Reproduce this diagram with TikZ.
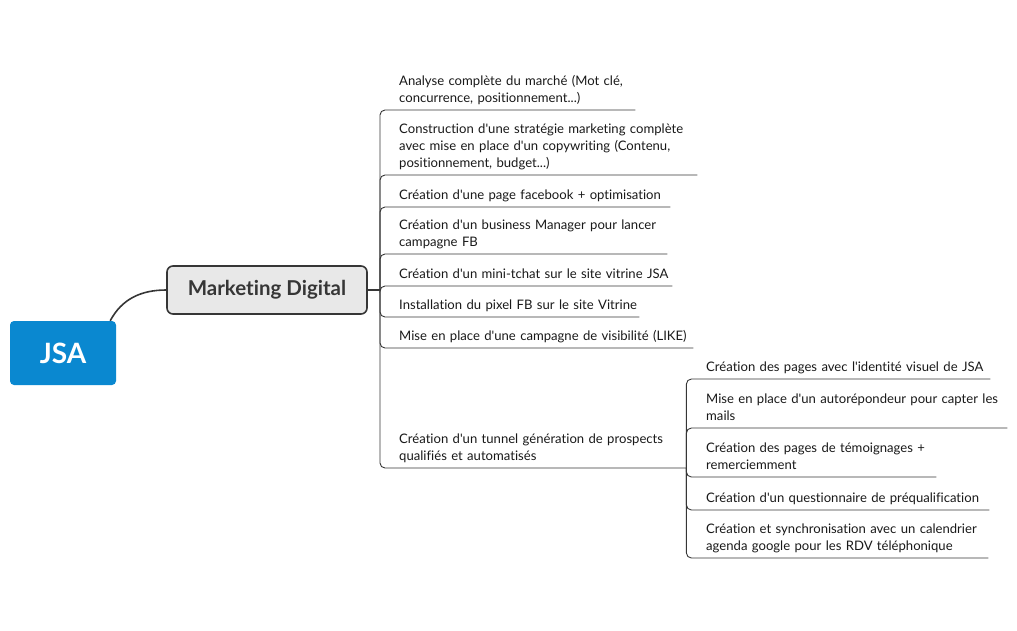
\documentclass[tikz,border=0pt]{standalone}
\usepackage{fontspec}
\setmainfont{Lato}[Ligatures={TeXOff,CommonOff}]
\usepackage{tikz}
\usetikzlibrary{positioning,calc}
\definecolor{jsablue}{HTML}{0A88D0}
\definecolor{mdgrey}{HTML}{E8E8E8}
\definecolor{inkgrey}{HTML}{363636}
\begin{document}
\begin{tikzpicture}[
  x=1pt, y=-1pt,
  font=\fontsize{13.1}{17}\selectfont,
  rootbox/.style={fill=jsablue, rounded corners=4pt, minimum width=106pt, minimum height=64pt, text=white, font=\fontsize{28}{32}\selectfont\bfseries},
  mainbox/.style={draw=inkgrey, line width=1.6pt, fill=mdgrey, rounded corners=6pt, minimum width=200pt, minimum height=48pt, text=inkgrey, font=\fontsize{20.5}{24}\selectfont\bfseries},
  leaf/.style={anchor=south west, align=left, inner xsep=0pt, inner ysep=2pt, text=black!90, execute at end node=\strut},
  branch/.style={draw=inkgrey, line width=0.9pt, rounded corners=5pt},
]
  \useasboundingbox (0,0) rectangle (1017,630);
  % centre and main topic
  \node[rootbox] (jsa) at (63,353) {JSA};
  \node[mainbox] (md) at (267,290) {Marketing Digital};
  \draw[inkgrey, line width=1.6pt] ([xshift=-6pt]jsa.north east) to[out=62,in=180] (md.west);
  \coordinate (hub) at (380,290);
  \draw[inkgrey, line width=1.6pt] (md.east) -- (hub);
  % Marketing Digital tasks
  \node[leaf, text width=236pt] (m1) at (399,110) {Analyse complète du marché (Mot clé,\\concurrence, positionnement...)};
  \node[leaf, text width=298pt] (m2) at (399,175) {Construction d'une stratégie marketing complète\\avec mise en place d'un copywriting (Contenu,\\positionnement, budget...)};
  \node[leaf, text width=271pt] (m3) at (399,207) {Création d'une page facebook + optimisation};
  \node[leaf, text width=268pt] (m4) at (399,254) {Création d'un business Manager pour lancer\\campagne FB};
  \node[leaf, text width=273pt] (m5) at (399,286) {Création d'un mini-tchat sur le site vitrine JSA};
  \node[leaf, text width=240pt] (m6) at (399,317) {Installation du pixel FB sur le site Vitrine};
  \node[leaf, text width=294pt] (m7) at (399,348) {Mise en place d'une campagne de visibilité (LIKE)};
  \node[leaf, text width=287pt] (m8) at (399,468) {Création d'un tunnel génération de prospects\\qualifiés et automatisés};
  \foreach \t in {m1,m2,m3,m4,m5,m6,m7,m8}
    \draw[branch] (hub) |- (\t.south west) -- (\t.south east);
  % tunnel sub-tasks
  \node[leaf, text width=284pt] (s1) at (706,379) {Création des pages avec l'identité visuel de JSA};
  \node[leaf, text width=301pt] (s2) at (706,428) {Mise en place d'un autorépondeur pour capter les\\mails};
  \node[leaf, text width=230pt] (s3) at (706,477) {Création des pages de témoignages +\\remerciemment};
  \node[leaf, text width=283pt] (s4) at (706,510) {Création d'un questionnaire de préqualification};
  \node[leaf, text width=282pt] (s5) at (706,558) {Création et synchronisation avec un calendrier\\agenda google pour les RDV téléphonique};
  \foreach \t in {s1,s2,s3,s4,s5}
    \draw[branch] (m8.south east) |- (\t.south west) -- (\t.south east);
\end{tikzpicture}
\end{document}
